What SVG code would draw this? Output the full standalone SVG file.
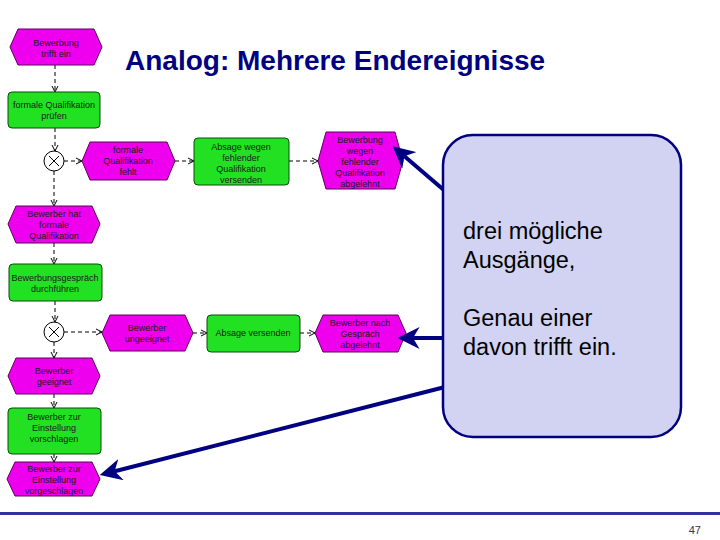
<svg xmlns="http://www.w3.org/2000/svg" width="720" height="540" viewBox="0 0 720 540">
<style>
.ev{fill:#ee00ee;stroke:#5a005a;stroke-width:1}
.fn{fill:#22e022;stroke:#0a4a0a;stroke-width:1}
.lbl{font-family:"Liberation Sans",Arial,sans-serif;font-size:9px;fill:#1a1a1a;text-anchor:middle}
.c{stroke:#000;stroke-width:1;stroke-dasharray:4,3;fill:none;marker-end:url(#v)}
.xor{fill:#fff;stroke:#000;stroke-width:1}
.big{stroke:#000080;stroke-width:4;fill:none;marker-end:url(#ah)}
.call{font-family:"Liberation Sans",Arial,sans-serif;font-size:23.5px;fill:#000}
</style>
<defs>
<marker id="v" viewBox="0 0 8 8" refX="7" refY="4" markerWidth="8" markerHeight="8" markerUnits="userSpaceOnUse" orient="auto">
<path d="M1,1 L7,4 L1,7" fill="none" stroke="#000" stroke-width="1"/>
</marker>
<marker id="ah" viewBox="0 0 10 10" refX="8" refY="5" markerWidth="5.5" markerHeight="5.5" orient="auto">
<path d="M0,0 L10,5 L0,10 L3,5 z" fill="#000080"/>
</marker>
</defs>
<rect width="720" height="540" fill="#fff"/>
<text x="125" y="70" font-family="Liberation Sans,Arial,sans-serif" font-size="28" font-weight="bold" fill="#000080">Analog: Mehrere Endereignisse</text>

<g id="connectors">
<path class="c" d="M55,65 V92"/>
<path class="c" d="M55,128 V151"/>
<path class="c" d="M64,161 H82"/>
<path class="c" d="M175,161 H194"/>
<path class="c" d="M289,161 H318"/>
<path class="c" d="M54,171 V206"/>
<path class="c" d="M54,243 V264"/>
<path class="c" d="M55,301 V322"/>
<path class="c" d="M64,332 H102"/>
<path class="c" d="M193,333 H207"/>
<path class="c" d="M300,333 H315"/>
<path class="c" d="M54,342 V358"/>
<path class="c" d="M54,394 V408"/>
<path class="c" d="M54,454 V462"/>
</g>

<g id="e1"><polygon class="ev" points="18,29 94,29 102,47 94,65 18,65 10,47"/>
<text class="lbl" x="56" y="46">Bewerbung</text><text class="lbl" x="56" y="57">trifft ein</text></g>

<g id="f1"><rect class="fn" x="8" y="92" width="92" height="36" rx="4"/>
<text class="lbl" x="54" y="108">formale Qualifikation</text><text class="lbl" x="54" y="119">prüfen</text></g>

<g id="x1"><circle class="xor" cx="54" cy="161" r="10"/><path d="M49,156 L59,166 M59,156 L49,166" stroke="#000" stroke-width="1"/></g>

<g id="e2"><polygon class="ev" points="90,142 167,142 175,161 167,180 90,180 82,161"/>
<text class="lbl" x="128" y="153">formale</text><text class="lbl" x="128" y="164">Qualifikation</text><text class="lbl" x="128" y="175">fehlt</text></g>

<g id="f2"><rect class="fn" x="194" y="138" width="95" height="47" rx="4"/>
<text class="lbl" x="241" y="150">Absage wegen</text><text class="lbl" x="241" y="161">fehlender</text><text class="lbl" x="241" y="172">Qualifikation</text><text class="lbl" x="241" y="183">versenden</text></g>

<g id="e3"><polygon class="ev" points="326,132 395,132 403,161 395,189 326,189 318,161"/>
<text class="lbl" x="360" y="143">Bewerbung</text><text class="lbl" x="360" y="154">wegen</text><text class="lbl" x="360" y="165">fehlender</text><text class="lbl" x="360" y="176">Qualifikation</text><text class="lbl" x="360" y="187">abgelehnt</text></g>

<g id="e4"><polygon class="ev" points="16,206 92,206 100,224 92,243 16,243 8,224"/>
<text class="lbl" x="54" y="217">Bewerber hat</text><text class="lbl" x="54" y="228">formale</text><text class="lbl" x="54" y="239">Qualifikation</text></g>

<g id="f3"><rect class="fn" x="9" y="264" width="93" height="37" rx="4"/>
<text class="lbl" x="55" y="281">Bewerbungsgespräch</text><text class="lbl" x="55" y="292">durchführen</text></g>

<g id="x2"><circle class="xor" cx="54" cy="332" r="10"/><path d="M49,327 L59,337 M59,327 L49,337" stroke="#000" stroke-width="1"/></g>

<g id="e5"><polygon class="ev" points="110,315 185,315 193,333 185,351 110,351 102,333"/>
<text class="lbl" x="147" y="331">Bewerber</text><text class="lbl" x="147" y="342">ungeeignet</text></g>

<g id="f4"><rect class="fn" x="207" y="315" width="93" height="37" rx="4"/>
<text class="lbl" x="253" y="336">Absage versenden</text></g>

<g id="e6"><polygon class="ev" points="323,315 398,315 406,333 398,352 323,352 315,333"/>
<text class="lbl" x="360" y="326">Bewerber nach</text><text class="lbl" x="360" y="337">Gespräch</text><text class="lbl" x="360" y="348">abgelehnt</text></g>

<g id="e7"><polygon class="ev" points="16,358 92,358 100,376 92,394 16,394 8,376"/>
<text class="lbl" x="54" y="374">Bewerber</text><text class="lbl" x="54" y="385">geeignet</text></g>

<g id="f5"><rect class="fn" x="8" y="408" width="93" height="46" rx="4"/>
<text class="lbl" x="54" y="420">Bewerber zur</text><text class="lbl" x="54" y="431">Einstellung</text><text class="lbl" x="54" y="442">vorschlagen</text></g>

<g id="e8"><polygon class="ev" points="15,462 92,462 100,479 92,496 15,496 7,479"/>
<text class="lbl" x="54" y="472">Bewerber zur</text><text class="lbl" x="54" y="483">Einstellung</text><text class="lbl" x="54" y="494">vorgeschlagen</text></g>

<g id="callout-arrows">
<line class="big" x1="445" y1="191" x2="396" y2="149"/>
<line class="big" x1="445" y1="338" x2="402" y2="338"/>
<line class="big" x1="445" y1="387" x2="104" y2="474"/>
</g>
<g id="callout">
<rect x="443" y="135" width="238" height="302" rx="30" fill="#d2d2f2" stroke="#000080" stroke-width="2.5"/>
<text class="call" x="463" y="239">drei mögliche</text>
<text class="call" x="463" y="268">Ausgänge,</text>
<text class="call" x="463" y="326">Genau einer</text>
<text class="call" x="463" y="355">davon trifft ein.</text>
</g>

<rect x="0" y="512" width="720" height="3" fill="#333399"/>
<text x="701" y="534" font-family="Liberation Sans Narrow,Liberation Sans,Arial,sans-serif" font-size="11" fill="#333366" text-anchor="end">47</text>
</svg>
